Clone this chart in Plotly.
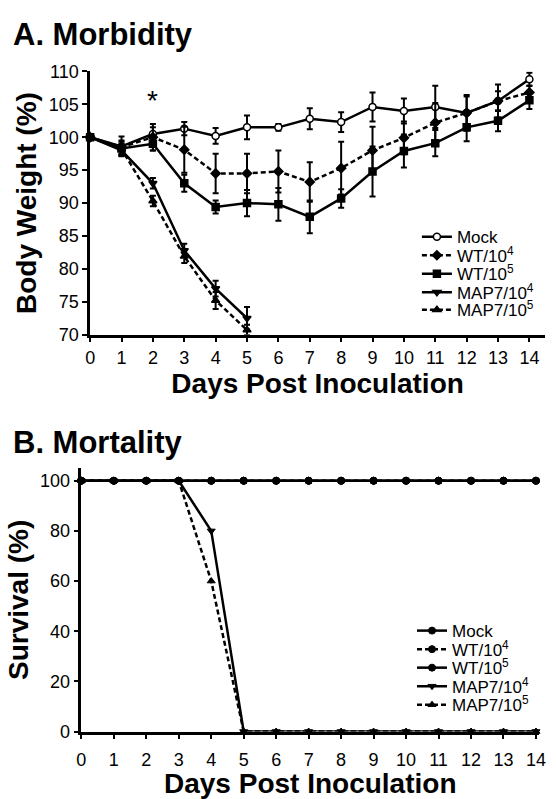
import plotly.graph_objects as go

days = list(range(15))
day_ticks = [str(d) for d in days]

# Panel A: body weight (%)
mock_w = [100, 98.6, 100.5, 101.3, 100.2, 101.5, 101.5, 102.8, 102.3, 104.6, 104.0, 104.6, 103.7, 105.5, 108.8]
mock_e = [0, 1.5, 1.0, 1.0, 1.2, 1.8, 0.5, 1.6, 1.5, 2.2, 1.9, 3.2, 2.7, 2.5, 1.0]
wt4_w = [100, 98.5, 100.0, 98.1, 94.5, 94.5, 94.8, 93.2, 95.3, 98.0, 99.9, 102.2, 103.7, 105.5, 106.8]
wt4_e = [0, 1.0, 2.0, 3.5, 3.0, 3.0, 3.2, 3.0, 4.0, 3.6, 2.5, 3.0, 2.5, 1.5, 1.0]
wt5_w = [100, 98.3, 99.0, 93.0, 89.4, 90.0, 89.8, 87.9, 90.7, 94.8, 97.9, 99.1, 101.5, 102.5, 105.6]
wt5_e = [0, 1.0, 1.0, 1.3, 1.0, 2.0, 2.5, 2.5, 1.4, 3.8, 2.5, 2.0, 2.1, 1.6, 1.3]
map4_days = [0, 1, 2, 3, 4, 5]
map4_w = [100, 98.0, 93.0, 82.8, 77.0, 72.5]
map4_e = [0, 0.8, 0.8, 1.0, 1.2, 1.7]
map5_days = [0, 1, 2, 3, 4, 5]
map5_w = [100, 98.2, 90.3, 81.9, 75.2, 70.7]
map5_e = [0, 0.8, 0.8, 1.0, 1.3, 0.8]

# Panel B: survival (%)
mock_s = [100] * 15
wt4_s = [100] * 15
wt5_s = [100] * 15
map4_s = [100, 100, 100, 100, 80, 0, 0, 0, 0, 0, 0, 0, 0, 0, 0]
map5_s = [100, 100, 100, 100, 60, 0, 0, 0, 0, 0, 0, 0, 0, 0, 0]

names = ["Mock", "WT/10<sup>4</sup>", "WT/10<sup>5</sup>", "MAP7/10<sup>4</sup>", "MAP7/10<sup>5</sup>"]
symbols = ["circle", "diamond", "square", "triangle-down", "triangle-up"]
dashes = ["solid", "5px,3px", "solid", "solid", "5px,3px"]
fills = ["white", "black", "black", "black", "black"]

FONT = "Liberation Sans, Arial, Helvetica, sans-serif"
fig = go.Figure()

top = [(days, mock_w, mock_e), (days, wt4_w, wt4_e), (days, wt5_w, wt5_e),
       (map4_days, map4_w, map4_e), (map5_days, map5_w, map5_e)]
for i, (x, y, e) in enumerate(top):
    fig.add_trace(go.Scatter(
        x=x, y=y, name=names[i], mode="lines+markers",
        line=dict(color="black", width=2.5, dash=dashes[i]),
        marker=dict(symbol=symbols[i], size=7, color=fills[i], line=dict(color="black", width=1.5)),
        error_y=dict(type="data", array=e, visible=True, color="black", thickness=2, width=3),
        xaxis="x", yaxis="y", legend="legend" if i == 0 else "legend%d" % (i + 1), cliponaxis=False))

bottom = [mock_s, wt4_s, wt5_s, map4_s, map5_s]
for i, y in enumerate(bottom):
    fig.add_trace(go.Scatter(
        x=days, y=y, name=names[i], mode="lines+markers",
        line=dict(color="black", width=2.5, dash=dashes[i]),
        marker=dict(symbol=symbols[i] if i >= 3 else "circle", size=7, color="black",
                    line=dict(color="black", width=1)),
        xaxis="x2", yaxis="y2", legend="legend%d" % (i + 6), cliponaxis=False))

axis_common = dict(showline=True, linecolor="black", linewidth=2.5, ticks="outside",
                   tickwidth=2, ticklen=5, tickcolor="black", showgrid=False, zeroline=False,
                   tickfont=dict(family=FONT, size=18, color="black"))

legend_style = dict(xanchor="left", yanchor="middle", bgcolor="rgba(0,0,0,0)",
                    font=dict(family=FONT, size=17, color="black"), itemwidth=30)
top_rows = [233, 252, 271, 290, 308]
bot_rows = [637, 656, 675, 694, 713]
legends = {}
for i, yy in enumerate(top_rows):
    key = "legend" if i == 0 else "legend%d" % (i + 1)
    legends[key] = dict(x=421 / 556, y=1 - yy / 799, **legend_style)
for i, yy in enumerate(bot_rows):
    legends["legend%d" % (i + 6)] = dict(x=416 / 556, y=1 - yy / 799, **legend_style)

title_font = dict(family=FONT, size=28, color="black")
fig.update_layout(
    width=556, height=799, margin=dict(l=0, r=0, t=0, b=0),
    paper_bgcolor="white", plot_bgcolor="white", showlegend=True,
    xaxis=dict(domain=[0.1565, 0.9928], range=[0, 14.5], tickvals=days, ticktext=day_ticks,
               anchor="y",
               title=dict(text="<b>Days Post Inoculation</b>", font=title_font, standoff=6),
               **axis_common),
    yaxis=dict(domain=[0.5832, 0.9212], range=[70, 110], tickvals=[70, 75, 80, 85, 90, 95, 100, 105, 110],
               anchor="x",
               title=dict(text="<b>Body Weight (%)</b>", font=title_font, standoff=4),
               **axis_common),
    xaxis2=dict(domain=[0.1403, 0.982], range=[0, 14.1], tickvals=days, ticktext=day_ticks,
                anchor="y2", ticklabelstandoff=5,
                title=dict(text="<b>Days Post Inoculation</b>", font=title_font, standoff=2),
                **axis_common),
    yaxis2=dict(domain=[0.0738, 0.4118], range=[0, 105], tickvals=[0, 20, 40, 60, 80, 100],
                anchor="x2",
                title=dict(text="<b>Survival (%)</b>", font=title_font, standoff=4),
                **axis_common),
    annotations=[
        dict(text="<b>A. Morbidity</b>", x=6 / 556, y=1 - 25 / 799, xref="paper", yref="paper",
             xanchor="left", yanchor="middle", showarrow=False, font=dict(family=FONT, size=31, color="black")),
        dict(text="<b>B. Mortality</b>", x=6 / 556, y=1 - 444 / 799, xref="paper", yref="paper",
             xanchor="left", yanchor="middle", showarrow=False, font=dict(family=FONT, size=31, color="black")),
        dict(text="*", x=2, y=105.6, xref="x", yref="y", showarrow=False,
             font=dict(family=FONT, size=28, color="black")),
    ],
    **legends,
)

fig.write_html("out.html")
